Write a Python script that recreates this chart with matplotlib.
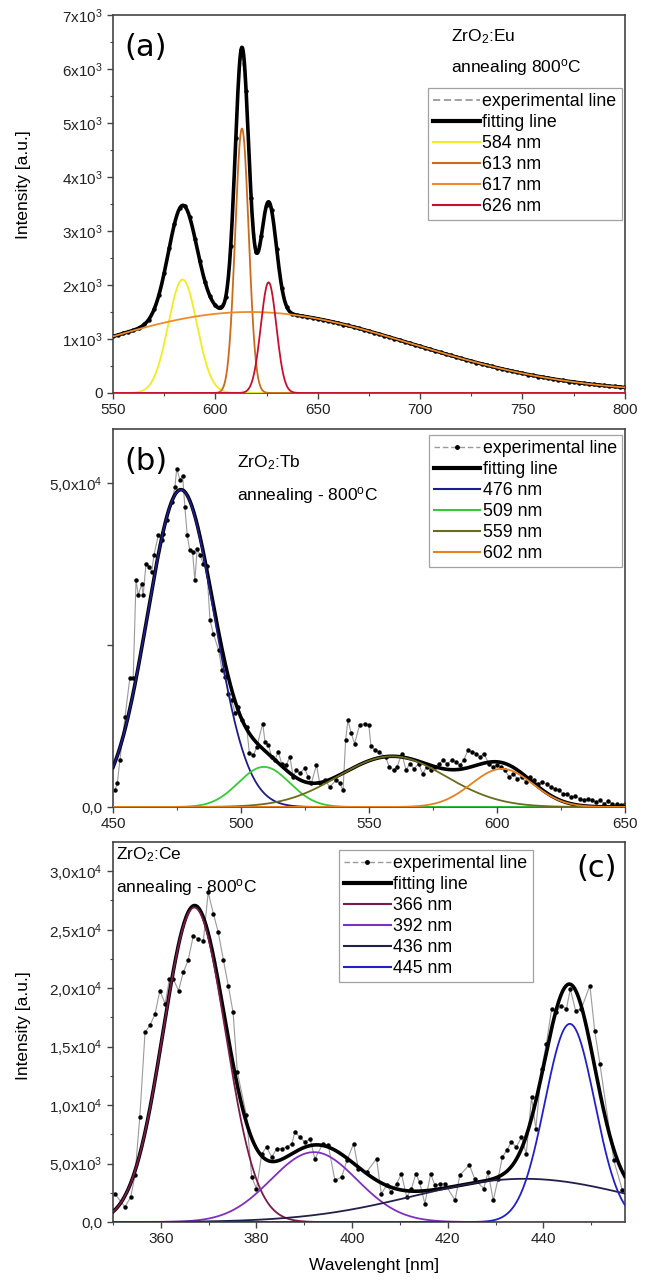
import numpy as np
import matplotlib
matplotlib.use('Agg')
import matplotlib.pyplot as plt
from matplotlib.lines import Line2D

plt.rcParams['font.family'] = ['Liberation Sans', 'DejaVu Sans']
plt.rcParams['mathtext.fontset'] = 'custom'
plt.rcParams['mathtext.rm'] = 'Liberation Sans'
plt.rcParams['mathtext.it'] = 'Liberation Sans:italic'

# ---- (a) ZrO2:Eu ----
eu_x = np.arange(550, 800.1, 2.5)
eu_y = [1050, 1070, 1110, 1125, 1170, 1195, 1270, 1355, 1550, 1815, 2230, 2680, 3130, 3420,
        3455, 3260, 2860, 2440, 2050, 1790, 1630, 1600, 1770, 2720, 4730, 6350, 5600, 3610,
        2620, 2910, 3480, 3390, 2660, 1950, 1590, 1470, 1445, 1420, 1412, 1390, 1378, 1352,
        1340, 1312, 1296, 1268, 1250, 1220, 1200, 1168, 1150, 1116, 1094, 1060, 1040, 1004,
        982, 948, 924, 890, 868, 832, 810, 776, 754, 720, 698, 664, 644, 612, 592, 560, 542,
        512, 496, 466, 450, 422, 408, 380, 368, 342, 330, 305, 295, 270, 262, 240, 234, 212,
        206, 186, 182, 162, 160, 140, 140, 122, 124, 105, 110]
eu_labels = ['584 nm', '613 nm', '617 nm', '626 nm']
eu_center = [584, 613, 617, 626]
eu_height = [2100, 4900, 1500, 2050]
eu_sigma = [7.0, 3.3, 79.0, 3.8]
eu_colors = ['#eeee22', '#cc6a1c', '#ee8a2a', '#c8102e']

# ---- (b) ZrO2:Tb ----
tb_x = [450.8, 451.7, 452.7, 454.7, 456.6, 457.9, 459.0, 459.9, 461.2, 461.8, 462.9, 464.2,
        465.1, 466.0, 467.7, 469.0, 469.7, 471.0, 472.9, 474.2, 474.9, 476.2, 477.2, 478.1,
        479.0, 480.0, 481.1, 482.0, 482.9, 484.0, 485.3, 486.6, 487.9, 489.2, 491.3, 492.6,
        493.8, 495.1, 496.4, 497.7, 499.0, 500.3, 502.2, 503.3, 504.9, 506.2, 508.5, 509.4,
        510.7, 512.0, 513.2, 514.6, 515.9, 517.8, 519.1, 520.4, 521.7, 523.0, 524.9, 526.2,
        527.5, 529.5, 530.8, 532.8, 534.7, 537.3, 538.6, 539.9, 540.9, 541.8, 543.1, 544.4,
        546.4, 548.4, 550.0, 550.8, 552.4, 554.0, 556.5, 558.0, 559.7, 561.0, 562.9, 564.5,
        566.0, 567.7, 569.4, 571.0, 572.6, 574.2, 575.8, 577.4, 579.0, 580.6, 582.3, 583.9,
        585.5, 587.0, 588.7, 590.3, 592.0, 593.5, 595.0, 596.8, 598.4, 600.0, 601.6, 603.2,
        604.8, 606.5, 608.0, 609.7, 611.3, 612.9, 614.5, 616.0, 617.7, 619.4, 621.0, 622.6,
        624.2, 625.8, 627.4, 629.0, 630.6, 632.3, 633.9, 635.5, 637.0, 638.7, 640.3, 642.0,
        643.5, 645.0, 646.8, 648.4, 650.0]
tb_y = [2620, 3700, 7250, 13900, 20000, 20000, 35000, 32700, 34500, 32700, 37600, 37100,
        36300, 38900, 42000, 41200, 42200, 44300, 47100, 49400, 52300, 50500, 51200, 46300,
        42000, 39700, 39400, 35000, 39900, 38900, 37600, 37300, 28900, 26800, 24200, 21100,
        20100, 17500, 16500, 14500, 15500, 13400, 12400, 8300, 8000, 9300, 12900, 10100,
        9600, 7800, 7300, 8500, 6700, 6500, 7800, 4700, 5700, 5200, 6000, 4700,
        3650, 6500, 3650, 4200, 3100, 4200, 3650, 2600, 10300, 13400, 11400, 9800,
        12700, 12900, 12600, 9500, 8800, 8500, 7700, 6200, 5700, 6200, 8250, 5670,
        6700, 5900, 6700, 5150, 6200, 5700, 6200, 6700, 7200, 6700, 7200, 7000,
        6450, 7200, 8760, 8500, 8250, 7700, 8250, 6700, 6200, 6450, 6200, 5670,
        4640, 5150, 4380, 4640, 3870, 4640, 4120, 3600, 3870, 3600, 3100, 2840,
        2580, 2060, 2060, 1550, 1650, 1290, 1030, 1290, 1130, 770, 1030, 515,
        930, 515, 410, 260, 515]
tb_labels = ['476 nm', '509 nm', '559 nm', '602 nm']
tb_center = [476.5, 509, 559, 602]
tb_height = [49000, 6200, 7830, 5900]
tb_sigma = [13.0, 10.0, 21.0, 12.0]
tb_colors = ['#1c1c8c', '#33cc33', '#6b6b1e', '#e8801e']

# ---- (c) ZrO2:Ce ----
ce_x = [350.4, 352.5, 353.7, 354.6, 355.6, 356.7, 357.7, 358.8, 359.8, 360.9, 361.8, 362.6,
        363.7, 364.7, 365.7, 366.8, 367.8, 368.9, 369.9, 371.0, 372.0, 373.1, 374.1, 375.1,
        376.0, 377.9, 379.0, 380.0, 381.1, 382.1, 383.2, 384.2, 385.3, 386.3, 387.4, 388.0,
        389.1, 390.1, 391.2, 392.2, 393.9, 395.0, 396.4, 397.8, 398.9, 400.3, 401.3, 403.0,
        405.1, 406.1, 407.2, 408.2, 409.3, 410.3, 411.4, 412.4, 413.3, 414.1, 415.2, 416.4,
        417.3, 418.3, 419.4, 421.5, 422.5, 424.5, 425.6, 427.5, 428.4, 429.5, 430.5, 431.4,
        432.3, 433.3, 434.3, 435.4, 436.4, 437.5, 438.4, 439.6, 440.6, 441.7, 442.7, 443.7,
        444.8, 445.6, 446.7, 447.9, 449.7, 450.7, 451.8, 454.7, 456.5]
ce_y = [2420, 1280, 2140, 3990, 8970, 16240, 16810, 17800, 19800, 18660, 20800, 20800,
        19800, 21370, 22370, 24500, 24200, 24070, 28200, 26350, 24800, 22370, 20230, 17950,
        12820, 9120, 3850, 2850, 5840, 6410, 5560, 6270, 6270, 6410, 6700, 7690,
        7260, 6840, 7120, 5410, 6700, 6600, 3560, 3850, 5270, 6700, 4560, 4270,
        5410, 2420, 3130, 2560, 3280, 4130, 2140, 2850, 4130, 3420, 1570, 4130,
        3130, 3280, 3280, 1850, 3990, 4900, 3700, 2850, 4270, 1850, 3700, 5560,
        6130, 6840, 6410, 7260, 5840, 10680, 7980, 13100, 15240, 18230, 17950, 18520,
        18230, 19940, 18090, 18230, 20230, 16380, 13530, 5270, 2710]
ce_labels = ['366 nm', '392 nm', '436 nm', '445 nm']
ce_center = [367, 392, 436, 445.5]
ce_height = [26900, 5980, 3700, 16950]
ce_sigma = [6.5, 9.0, 23.0, 5.2]
ce_colors = ['#7a1a4a', '#8030c0', '#20204a', '#2020c8']


def gauss(x, c, a, s):
    return a * np.exp(-(x - c) ** 2 / (2 * s * s))


def panel(ax, xlim, ex_x, ex_y, centers, heights, sigmas, colors, labels, dashed_exp):
    xs = np.linspace(xlim[0], xlim[1], 800)
    ax.plot(ex_x, ex_y, color='#9a9a9a', lw=0.8, ls='--' if dashed_exp else '-',
            marker='o', ms=2.2, mfc='k', mec='k', zorder=2)
    comps = [gauss(xs, c, a, s) for c, a, s in zip(centers, heights, sigmas)]
    ax.plot(xs, np.sum(comps, axis=0), color='k', lw=2.6, zorder=3)
    for comp, col in zip(comps, colors):
        ax.plot(xs, comp, color=col, lw=1.3, zorder=4)
    ax.set_xlim(xlim)
    for sp in ax.spines.values():
        sp.set_color('#444444')
        sp.set_linewidth(1.2)
    ax.tick_params(which='major', direction='out', length=4, width=1, colors='#444444',
                   labelcolor='#222222', labelsize=11)
    ax.tick_params(which='minor', direction='out', length=2.5, width=0.8, colors='#444444')
    if dashed_exp:
        h_exp = Line2D([], [], color='#9a9a9a', lw=1.3, ls=(0, (4, 2)))
    else:
        h_exp = Line2D([], [], color='#9a9a9a', lw=1.0, ls=(0, (4, 2)), marker='o', ms=2.5,
                       mfc='k', mec='k')
    handles = [h_exp, Line2D([], [], color='k', lw=3)]
    handles += [Line2D([], [], color=c, lw=1.5) for c in colors]
    return handles, ['experimental line', 'fitting line'] + labels


fig = plt.figure(figsize=(6.52, 12.83), dpi=100)
axA = fig.add_axes([0.1733, 0.6937, 0.785, 0.2946])
axB = fig.add_axes([0.1733, 0.371, 0.785, 0.2946])
axC = fig.add_axes([0.1733, 0.0475, 0.785, 0.2962])

leg_kw = dict(fontsize=12.8, frameon=True, fancybox=False, edgecolor='#8a8a8a',
              handlelength=2.6, handletextpad=0.15, labelspacing=0.22, borderpad=0.3,
              borderaxespad=0)

# (a)
h, l = panel(axA, (550, 800), eu_x, eu_y, eu_center, eu_height, eu_sigma, eu_colors,
             eu_labels, True)
axA.set_ylim(0, 7000)
axA.set_yticks(range(0, 7001, 1000))
axA.set_yticklabels(['0'] + ['%dx10$^3$' % i for i in range(1, 8)])
axA.set_yticks(range(500, 7000, 1000), minor=True)
axA.set_xticks(range(550, 801, 50))
axA.set_xticks(range(575, 800, 50), minor=True)
lg = axA.legend(h, l, loc='upper right', bbox_to_anchor=(0.994, 0.807), **leg_kw)
lg.get_frame().set_linewidth(0.9)
axA.set_ylabel('Intensity [a.u.]', fontsize=12.5)
axA.yaxis.set_label_coords(-0.16, 0.55)
axA.text(0.023, 0.915, '(a)', transform=axA.transAxes, fontsize=22, family='DejaVu Sans',
         va='center', ha='left')
axA.text(0.66, 0.942, 'ZrO$_2$:Eu', transform=axA.transAxes, fontsize=12.5, va='center')
axA.text(0.66, 0.86, 'annealing 800$^\\mathrm{o}$C', transform=axA.transAxes,
         fontsize=12.5, va='center')

# (b)
h, l = panel(axB, (450, 650), tb_x, tb_y, tb_center, tb_height, tb_sigma, tb_colors,
             tb_labels, False)
axB.set_ylim(0, 58400)
axB.set_yticks([0, 25000, 50000])
axB.set_yticklabels(['0,0', '', '5,0x10$^4$'])
axB.set_xticks(range(450, 651, 50))
axB.set_xticks(range(475, 650, 50), minor=True)
lg = axB.legend(h, l, loc='upper right', bbox_to_anchor=(0.995, 0.984), **leg_kw)
lg.get_frame().set_linewidth(0.9)
axB.text(0.023, 0.915, '(b)', transform=axB.transAxes, fontsize=22, family='DejaVu Sans',
         va='center', ha='left')
axB.text(0.242, 0.91, 'ZrO$_2$:Tb', transform=axB.transAxes, fontsize=12.5, va='center')
axB.text(0.242, 0.825, 'annealing - 800$^\\mathrm{o}$C', transform=axB.transAxes,
         fontsize=12.5, va='center')

# (c)
h, l = panel(axC, (350, 457), ce_x, ce_y, ce_center, ce_height, ce_sigma, ce_colors,
             ce_labels, False)
axC.set_ylim(0, 32500)
axC.set_yticks(range(0, 30001, 5000))
axC.set_yticklabels(['0,0', '5,0x10$^3$', '1,0x10$^4$', '1,5x10$^4$', '2,0x10$^4$',
                     '2,5x10$^4$', '3,0x10$^4$'])
axC.set_yticks(range(2500, 32500, 5000), minor=True)
axC.set_xticks(range(360, 441, 20))
axC.set_xticks(range(350, 457, 10), minor=True)
lg = axC.legend(h, l, loc='upper right', bbox_to_anchor=(0.82, 0.979), **leg_kw)
lg.get_frame().set_linewidth(0.9)
axC.set_ylabel('Intensity [a.u.]', fontsize=12.5)
axC.yaxis.set_label_coords(-0.16, 0.516)
axC.set_xlabel('Wavelenght [nm]', fontsize=12.5)
axC.xaxis.set_label_coords(0.51, -0.095)
axC.text(0.984, 0.93, '(c)', transform=axC.transAxes, fontsize=22, family='DejaVu Sans',
         va='center', ha='right')
axC.text(0.005, 0.966, 'ZrO$_2$:Ce', transform=axC.transAxes, fontsize=12.5, va='center')
axC.text(0.005, 0.88, 'annealing - 800$^\\mathrm{o}$C', transform=axC.transAxes,
         fontsize=12.5, va='center')

fig.savefig('out.png', dpi=100)
